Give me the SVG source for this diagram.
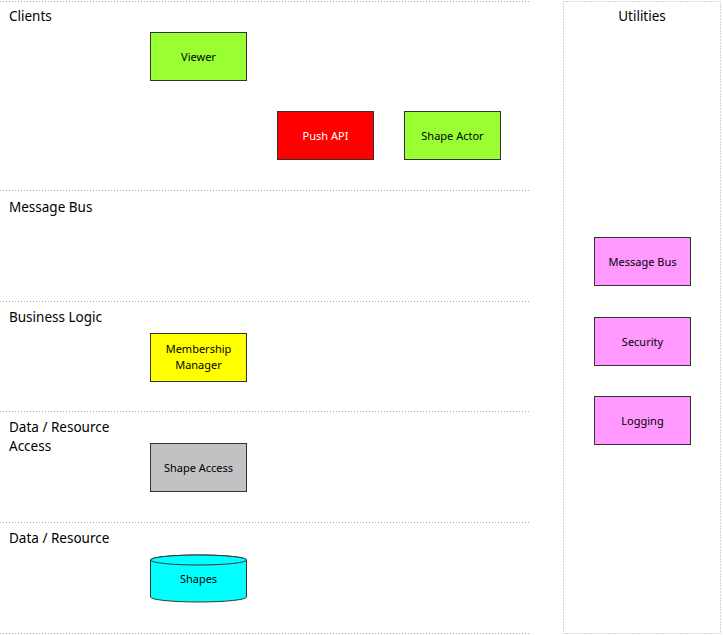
<svg xmlns="http://www.w3.org/2000/svg" width="723" height="635" viewBox="0 0 723 635">
<style>
.sep{stroke:#a6a6a6;stroke-width:1;stroke-dasharray:1 2;fill:none}
.hd{font-family:"Noto Sans","Open Sans","DejaVu Sans",sans-serif;font-size:13.5px;fill:#000}
.bx{stroke:#333;stroke-width:1}
.lb{font-family:"Noto Sans","DejaVu Sans",sans-serif;font-size:11px;fill:#000;text-anchor:middle}
</style>
<rect width="723" height="635" fill="#fff"/>
<g id="lanes">
<line class="sep" x1="0" y1="1.5" x2="530" y2="1.5"/>
<line class="sep" x1="0" y1="190.5" x2="530" y2="190.5"/>
<line class="sep" x1="0" y1="301.5" x2="530" y2="301.5"/>
<line class="sep" x1="0" y1="411.5" x2="530" y2="411.5"/>
<line class="sep" x1="0" y1="522.5" x2="530" y2="522.5"/>
<line class="sep" x1="0" y1="633.5" x2="530" y2="633.5"/>
<rect class="sep" x="563.5" y="1.5" width="157" height="632"/>
<text class="hd" x="9" y="21">Clients</text>
<text class="hd" x="9" y="212">Message Bus</text>
<text class="hd" x="9" y="322">Business Logic</text>
<text class="hd" x="9" y="432">Data / Resource</text>
<text class="hd" x="9" y="451">Access</text>
<text class="hd" x="9" y="543">Data / Resource</text>
<text class="hd" x="642" y="21" text-anchor="middle">Utilities</text>
</g>
<g id="viewer"><rect class="bx" x="150.5" y="32.5" width="96" height="48" fill="#99ff33"/><text class="lb" x="198.5" y="60.5">Viewer</text></g>
<g id="pushapi"><rect class="bx" x="277.5" y="111.5" width="96" height="48" fill="#ff0000"/><text class="lb" x="325.5" y="139.5" style="fill:#fff">Push API</text></g>
<g id="shapeactor"><rect class="bx" x="404.5" y="111.5" width="96" height="48" fill="#99ff33"/><text class="lb" x="452.5" y="139.5">Shape Actor</text></g>
<g id="membership"><rect class="bx" x="150.5" y="333.5" width="96" height="48" fill="#ffff00"/><text class="lb" x="198.5" y="353">Membership</text><text class="lb" x="198.5" y="369">Manager</text></g>
<g id="shapeaccess"><rect class="bx" x="150.5" y="443.5" width="96" height="48" fill="#c3c1c3"/><text class="lb" x="198.5" y="471.5">Shape Access</text></g>
<g id="shapes">
<path class="bx" d="M150.5,560 L150.5,597 A48,5 0 0 0 246.5,597 L246.5,560 A48,5 0 0 0 150.5,560 Z" fill="#00ffff"/>
<ellipse class="bx" cx="198.5" cy="560" rx="48" ry="5" fill="#00ffff"/>
<text class="lb" x="198.5" y="583">Shapes</text>
</g>
<g id="msgbus"><rect class="bx" x="594.5" y="237.5" width="96" height="48" fill="#ff99ff"/><text class="lb" x="642.5" y="265.5">Message Bus</text></g>
<g id="security"><rect class="bx" x="594.5" y="317.5" width="96" height="48" fill="#ff99ff"/><text class="lb" x="642.5" y="345.5">Security</text></g>
<g id="logging"><rect class="bx" x="594.5" y="396.5" width="96" height="48" fill="#ff99ff"/><text class="lb" x="642.5" y="424.5">Logging</text></g>
<g id="connectors"></g>
</svg>
